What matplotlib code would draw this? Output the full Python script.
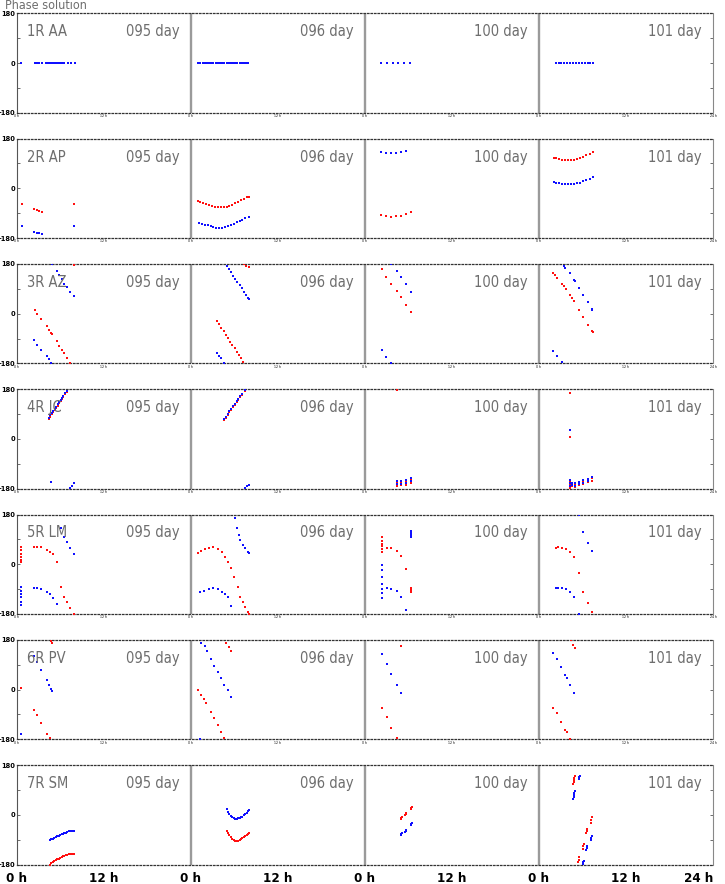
import numpy as np
import matplotlib
matplotlib.use("Agg")
import matplotlib.pyplot as plt
import matplotlib.transforms as mtransforms

FONT = ['DejaVu Sans']
plt.rcParams['font.family'] = FONT
plt.rcParams['font.stretch'] = 'condensed'

days = ["095", "096", "100", "101"]
antennas = ["1R AA", "2R AP", "3R AZ", "4R JC", "5R LM", "6R PV", "7R SM"]
xtick_pos = [0, 12, 24, 36, 48, 60, 72, 84, 96]
xtick_labels = ["0 h", "12 h", "0 h", "12 h", "0 h", "12 h", "0 h", "12 h", "24 h"]
ytick_pos = [-180, 0, 180]
ytick_labels = ["-180", "0", "180"]

# ---- data: {day: (hours, phase_deg)} ----
AA_red = {"096": ([0.9], [0])}
AA_blue = {
    "095": ([0.5, 2.5, 2.8, 3.1, 3.4, 4.0, 4.25, 4.5, 4.75, 5.0, 5.25, 5.5, 5.75, 6.0, 6.25, 6.5, 7.0, 7.5, 8.0],
            [0, 0, 0, 0, 0, 0, 0, 0, 0, 0, 0, 0, 0, 0, 0, 0, 0, 0, 0]),
    "096": ([1.0, 1.3, 1.6, 1.9, 2.2, 2.5, 2.8, 3.1, 3.4, 3.7, 4.0, 4.3, 4.6, 4.9, 5.2, 5.5, 5.8, 6.1, 6.4, 6.7, 7.0, 7.3, 7.6, 7.9],
            [0, 0, 0, 0, 0, 0, 0, 0, 0, 0, 0, 0, 0, 0, 0, 0, 0, 0, 0, 0, 0, 0, 0, 0]),
    "100": ([2.2, 3.0, 3.8, 4.6, 5.4, 6.2], [0, 0, 0, 0, 0, 0]),
    "101": ([2.3, 2.7, 3.1, 3.5, 3.9, 4.3, 4.7, 5.1, 5.5, 5.9, 6.3, 6.7, 7.1, 7.5],
            [0, 0, 0, 0, 0, 0, 0, 0, 0, 0, 0, 0, 0, 0]),
}

AP_red = {
    "095": ([0.65, 2.4, 2.75, 3.1, 3.4, 7.9], [-58, -75, -79, -83, -86, -58]),
    "096": ([0.9, 1.3, 1.7, 2.1, 2.5, 2.9, 3.3, 3.7, 4.1, 4.5, 4.9, 5.3, 5.7, 6.1, 6.5, 6.9, 7.3, 7.7, 8.0],
            [-46, -50, -54, -58, -62, -65, -67, -68, -69, -68, -66, -63, -59, -54, -48, -42, -37, -33, -30]),
    "100": ([2.2, 2.9, 3.6, 4.3, 5.0, 5.7, 6.3], [-97, -100, -102, -101, -99, -94, -84]),
    "101": ([2.0, 2.4, 2.8, 3.2, 3.6, 4.0, 4.4, 4.8, 5.2, 5.6, 6.0, 6.5, 7.0, 7.5],
            [111, 108, 106, 104, 103, 103, 103, 104, 106, 109, 113, 119, 125, 131]),
}
AP_blue = {
    "095": ([0.65, 2.4, 2.75, 3.1, 3.4, 7.9], [-137, -158, -161, -163, -165, -137]),
    "096": ([1.1, 1.5, 1.9, 2.3, 2.7, 3.1, 3.5, 3.9, 4.3, 4.7, 5.1, 5.5, 5.9, 6.3, 6.7, 7.1, 7.5, 8.0],
            [-125, -128, -131, -134, -137, -140, -142, -143, -142, -140, -137, -133, -128, -123, -118, -113, -109, -105]),
    "100": ([2.2, 2.9, 3.6, 4.3, 5.0, 5.7], [133, 129, 127, 128, 130, 134]),
    "101": ([2.0, 2.4, 2.8, 3.2, 3.6, 4.0, 4.4, 4.8, 5.2, 5.6, 6.0, 6.5, 7.0, 7.4],
            [23, 21, 19, 17, 15, 14.5, 15, 16, 18, 21, 25, 30, 35, 40]),
}

AZ_red = {
    "095": ([2.48, 2.77, 3.34, 4.10, 4.37, 4.65, 4.83, 5.48, 5.83, 6.21, 6.52, 6.85, 7.31, 7.9],
            [13, -2, -20, -45, -60, -69, -75, -100, -117, -130, -144, -159, -178, 175]),
    "096": ([3.6, 3.9, 4.2, 4.5, 4.8, 5.1, 5.4, 5.7, 6.0, 6.3, 6.6, 6.9, 7.2, 7.3, 7.6, 8.0],
            [-27, -39, -51, -64, -76, -88, -101, -113, -125, -137, -150, -162, -174, 178, 172, 167]),
    "100": ([2.3, 2.9, 3.6, 4.35, 4.95, 5.65, 6.3], [160, 133, 109, 81, 61, 33, 5]),
    "101": ([1.97, 2.2, 2.52, 3.13, 3.4, 3.72, 4.28, 4.5, 4.87, 5.56, 6.11, 6.72, 7.35, 7.4],
            [148, 140, 130, 109, 100, 89, 67, 58, 45, 15, -12, -42, -63, -66]),
}
AZ_blue = {
    "095": ([2.39, 2.8, 3.35, 4.1, 4.37, 4.65, 4.78, 5.48, 5.83, 6.21, 6.52, 6.85, 7.31, 7.9],
            [-96, -112, -130, -154, -165, -178, 179, 155, 139, 124, 109, 95, 79, 63]),
    "096": ([3.6, 3.85, 4.1, 4.5, 4.9, 5.2, 5.5, 5.8, 6.1, 6.4, 6.7, 7.0, 7.3, 7.6, 7.9, 8.0],
            [-142, -152, -162, -178, 173, 161, 150, 138, 126, 115, 103, 91, 79, 68, 56, 52]),
    "100": ([2.3, 2.9, 3.6, 3.6, 4.35, 4.95, 5.65, 6.3], [-130, -157, -178, 179, 155, 131, 106, 77]),
    "101": ([1.97, 2.52, 3.13, 3.45, 3.6, 4.28, 4.87, 5.0, 5.56, 6.11, 6.72, 7.25, 7.35],
            [-136, -155, -175, 172, 165, 146, 121, 117, 93, 67, 41, 18, 13]),
}

JC_red = {
    "095": ([4.4, 4.6, 4.8, 5.0, 5.2, 5.4, 5.6, 5.8, 6.0, 6.2, 6.4, 6.6, 6.85],
            [73, 81, 89, 97, 105, 113, 121, 129, 137, 145, 153, 161, 171]),
    "096": ([4.55, 4.8, 5.05, 5.3, 5.55, 5.8, 6.05, 6.3, 6.55, 6.8, 7.05, 7.4],
            [68, 77, 86, 96, 105, 114, 123, 132, 142, 151, 160, 173]),
    "100": ([4.35, 4.35, 4.97, 4.97, 5.65, 5.65, 6.35, 6.35, 4.35],
            [-158, -170, -156, -168, -154, -166, -146, -160, 178]),
    "101": ([4.3, 4.3, 4.3, 4.5, 5.0, 5.0, 5.55, 5.55, 6.1, 6.1, 6.7, 6.7, 7.3, 7.3, 4.3, 4.3],
            [-152, -165, -178, -170, -162, -174, -158, -168, -152, -162, -147, -157, -140, -152, 167, 8]),
}
JC_blue = {
    "095": ([4.4, 4.6, 4.8, 5.0, 5.2, 5.4, 5.6, 5.8, 6.0, 6.2, 6.4, 6.6, 6.85, 4.65, 7.3, 7.6, 7.9],
            [77, 85, 93, 101, 109, 117, 125, 133, 141, 149, 157, 165, 175, -157, -178, -170, -160]),
    "096": ([4.55, 4.8, 5.05, 5.3, 5.55, 5.8, 6.05, 6.3, 6.55, 6.8, 7.05, 7.4, 7.4, 7.7, 8.0],
            [72, 81, 90, 100, 109, 118, 127, 136, 146, 155, 164, 177, -177, -171, -165]),
    "100": ([4.35, 4.35, 4.97, 4.97, 5.65, 5.65, 6.35, 6.35],
            [-153, -164, -152, -162, -150, -160, -142, -152]),
    "101": ([4.3, 4.3, 4.3, 4.5, 4.5, 5.0, 5.0, 5.55, 5.55, 6.1, 6.1, 6.7, 6.7, 7.3, 4.3],
            [-150, -160, -172, -158, -168, -160, -170, -155, -164, -150, -158, -144, -152, -138, 32]),
}

LM_red = {
    "095": ([0.55, 0.55, 0.55, 0.55, 0.55, 0.55, 2.39, 2.8, 3.35, 4.1, 4.55, 4.92, 5.48, 6.07, 6.48, 6.85, 7.31, 7.86],
            [64, 50, 38, 25, 15, 9, 64, 64, 61, 52, 43, 36, 7, -83, -117, -135, -159, -179]),
    "096": ([0.92, 1.38, 1.93, 2.53, 3.08, 3.68, 4.23, 4.69, 5.06, 5.52, 5.97, 6.44, 6.8, 7.13, 7.49, 7.82, 8.04],
            [40, 48, 54, 58, 61, 55, 46, 27, 9, -14, -47, -83, -117, -135, -153, -171, -179]),
    "100": ([2.3, 2.3, 2.3, 2.3, 2.3, 2.3, 3.0, 3.6, 4.35, 5.0, 5.65, 6.35, 6.35, 6.35],
            [97, 85, 75, 65, 55, 45, 60, 60, 48, 31, -17, -85, -93, -100]),
    "101": ([2.3, 2.6, 3.13, 3.72, 4.28, 4.87, 5.56, 6.11, 6.72, 7.35],
            [60, 61, 60, 54, 45, 27, -33, -99, -141, -171]),
}
LM_blue = {
    "095": ([0.55, 0.55, 0.55, 0.55, 0.55, 0.55, 2.39, 2.8, 3.35, 4.1, 4.55, 4.92, 5.48, 6.07, 6.48, 6.85, 7.31, 7.86],
            [-81, -95, -108, -120, -135, -147, -87, -87, -90, -99, -108, -121, -144, 130, 97, 79, 58, 36]),
    "096": ([1.24, 1.84, 2.53, 3.08, 3.68, 4.23, 4.69, 5.06, 5.52, 6.07, 6.34, 6.58, 6.8, 7.22, 7.49, 7.82, 8.04],
            [-101, -95, -89, -87, -90, -99, -108, -117, -150, 168, 130, 106, 88, 70, 58, 45, 40]),
    "100": ([2.3, 2.3, 2.3, 2.3, 2.3, 2.3, 2.3, 3.0, 3.6, 4.35, 5.0, 5.65, 6.35, 6.35, 6.35, 6.35],
            [-2, -20, -45, -70, -90, -105, -122, -87, -90, -97, -117, -165, 97, 105, 113, 121]),
    "101": ([2.3, 2.6, 3.13, 3.72, 4.28, 4.87, 5.56, 5.56, 6.11, 6.72, 7.35],
            [-87, -87, -87, -90, -101, -119, -179, 180, 115, 76, 49]),
}

PV_red = {
    "095": ([0.55, 2.39, 2.8, 3.35, 4.1, 4.51, 4.65, 4.87], [6, -75, -93, -122, -162, -176, 177, 170]),
    "096": ([0.92, 1.38, 1.75, 2.07, 2.76, 3.22, 3.68, 4.14, 4.51, 4.87, 5.2, 5.52],
            [0, -21, -35, -50, -81, -104, -129, -153, -176, 168, 153, 139]),
    "100": ([2.3, 3.0, 3.6, 4.35, 5.0], [-65, -101, -138, -177, 156]),
    "101": ([1.97, 2.44, 3.03, 3.59, 3.82, 4.28, 4.35, 4.7, 4.97], [-65, -84, -117, -147, -155, -179, 180, 160, 150]),
}
PV_blue = {
    "095": ([0.55, 2.39, 2.8, 3.35, 4.1, 4.37, 4.65, 4.87], [-162, 120, 99, 69, 33, 15, 1, -6]),
    "096": ([1.24, 1.38, 1.93, 2.16, 2.76, 3.22, 3.68, 4.14, 4.6, 5.06, 5.52],
            [-178, 168, 156, 138, 112, 87, 63, 40, 15, -3, -27]),
    "100": ([2.3, 3.0, 3.6, 4.35, 5.0], [127, 91, 58, 15, -12]),
    "101": ([1.97, 2.44, 3.03, 3.59, 3.82, 4.28, 4.87], [132, 109, 81, 51, 40, 15, -12]),
}

SM_red = {
    "095": ([4.55, 4.75, 4.95, 5.15, 5.35, 5.55, 5.75, 5.95, 6.15, 6.35, 6.55, 6.75, 6.95, 7.15, 7.4, 7.6, 7.85],
            [-180, -176, -172, -168, -164, -161, -158, -155, -152, -150, -148, -146, -144, -143, -142, -141, -141]),
    "096": ([4.9, 5.1, 5.3, 5.5, 5.7, 5.9, 6.1, 6.3, 6.5, 6.7, 6.9, 7.1, 7.3, 7.5, 7.7, 7.9, 8.05],
            [-57, -65, -73, -80, -86, -91, -94, -95, -94, -92, -89, -85, -81, -77, -72, -68, -65]),
    "100": ([4.9, 4.97, 5.04, 5.58, 5.65, 5.72, 6.28, 6.35, 6.42],
            [-16, -12, -8, 0, 4, 8, 22, 26, 30]),
    "101": ([4.72, 4.78, 4.83, 4.88, 4.94, 7.13, 7.2, 7.27, 6.53, 6.6, 6.67, 6.03, 6.1, 6.17, 5.43, 5.5, 5.57],
            [110, 118, 126, 133, 140, -28, -18, -8, -66, -58, -50, -122, -114, -106, -170, -162, -154]),
}
SM_blue = {
    "095": ([4.55, 4.75, 4.95, 5.15, 5.35, 5.55, 5.75, 5.95, 6.15, 6.35, 6.55, 6.75, 6.95, 7.15, 7.4, 7.6, 7.85],
            [-92, -89, -86, -83, -80, -77, -75, -72, -70, -68, -66, -64, -62, -60, -58, -57, -57]),
    "096": ([4.9, 5.1, 5.3, 5.5, 5.7, 5.9, 6.1, 6.3, 6.5, 6.7, 6.9, 7.1, 7.3, 7.5, 7.7, 7.9, 8.05],
            [20, 12, 4, -4, -9, -13, -14, -14, -13, -12, -9, -6, -2, 3, 8, 13, 16]),
    "100": ([4.9, 4.97, 5.04, 5.58, 5.65, 5.72, 6.28, 6.35, 6.42],
            [-74, -70, -66, -62, -58, -54, -36, -32, -28]),
    "101": ([5.5, 5.55, 5.6, 4.72, 4.78, 4.83, 4.88, 4.94, 7.13, 7.2, 7.27, 6.53, 6.6, 6.67, 6.03, 6.1, 6.17],
            [130, 136, 142, 58, 65, 72, 80, 88, -92, -84, -76, -128, -120, -112, -178, -172, -166]),
}

rows = [
    (AA_red, AA_blue), (AP_red, AP_blue), (AZ_red, AZ_blue), (JC_red, JC_blue),
    (LM_red, LM_blue), (PV_red, PV_blue), (SM_red, SM_blue),
]

W, H = 725, 884
fig = plt.figure(figsize=(W / 100, H / 100), dpi=100)
left_px, width_px = 17, 696
top0, step, h_px = 13.3, 125.3, 99.5
GREY = '#6e6e6e'

fig.text(5 / W, 1 - 9 / H, "Phase solution", ha='left', va='baseline',
         fontsize=9, color=GREY)

for i, (name, (red, blue)) in enumerate(zip(antennas, rows)):
    top_px = top0 + i * step
    ax = fig.add_axes([left_px / W, 1 - (top_px + h_px) / H, width_px / W, h_px / H])
    ax.set_xlim(0, 96)
    ax.set_ylim(-180, 180)
    trans = mtransforms.blended_transform_factory(ax.transData, ax.transAxes)
    for k in (1, 2, 3):
        ax.axvline(24 * k, color='#9a9a9a', lw=1.7, zorder=1)
    for d, day in enumerate(days):
        for data, col in ((red, '#ff1010'), (blue, '#1010ff')):
            if day in data:
                t, ph = data[day]
                ax.plot(d * 24 + np.asarray(t), ph, 's', ms=1.6, mew=0,
                        color=col, zorder=3)
        ax.text(d * 24 + 22.4, 0.89, day + " day", transform=trans,
                ha='right', va='top', fontsize=10.5, color=GREY)
    ax.text(1.35, 0.89, name, transform=trans,
            ha='left', va='top', fontsize=10.5, color=GREY)

    for s in ('top', 'bottom'):
        ax.spines[s].set_linestyle((0, (1.2, 1.6)))
        ax.spines[s].set_color('#333333')
        ax.spines[s].set_linewidth(0.9)
    ax.spines['left'].set_color('#555555')
    ax.spines['left'].set_linewidth(0.8)
    ax.spines['right'].set_color('#888888')
    ax.spines['right'].set_linewidth(0.8)

    ax.set_yticks(ytick_pos)
    ax.set_yticklabels(ytick_labels, fontsize=5.3, fontweight='bold')
    ax.set_yticks([-90, 90], minor=True)
    ax.tick_params(axis='y', which='both', direction='in', length=2.5, width=0.6,
                   right=True, pad=1.0, colors='#555555', labelcolor='black')
    ax.set_xticks(xtick_pos)
    if i == len(antennas) - 1:
        ax.set_xticklabels(xtick_labels, fontsize=9.5, fontweight='bold')
        ax.tick_params(axis='x', length=0, pad=5)
        lbls = ax.get_xticklabels()
        lbls[-1].set_horizontalalignment('right')
        lbls[-1].set_x(96)
    else:
        ax.set_xticklabels(xtick_labels, fontsize=2.5)
        ax.tick_params(axis='x', length=0, pad=1)

fig.savefig("out.png", dpi=100)
